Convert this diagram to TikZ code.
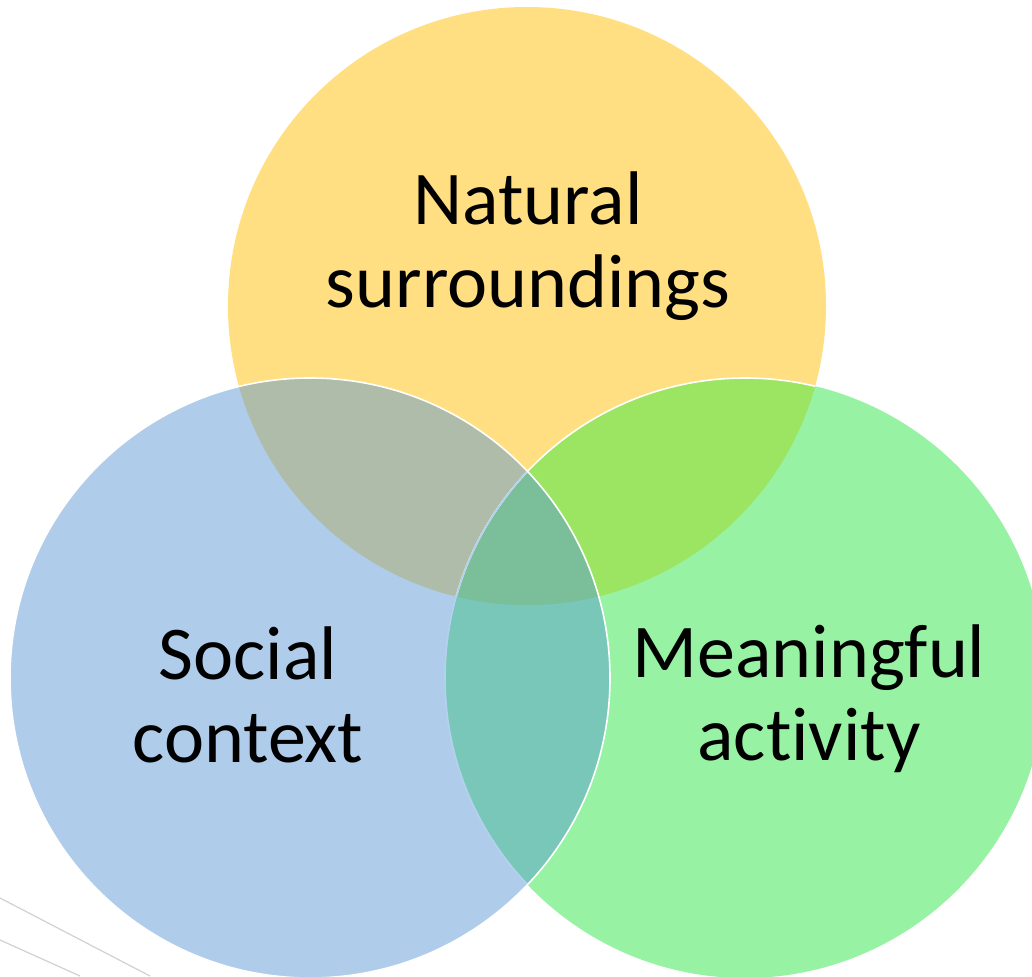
\documentclass[tikz,border=0pt]{standalone}
\usepackage{fontspec}
\setmainfont{Carlito}[Ligatures=NoCommon]
\definecolor{cy}{HTML}{FFDF82}
\definecolor{cb}{HTML}{AFCDEA}
\definecolor{cg}{HTML}{98F2A3}
\definecolor{cyb}{HTML}{AEBCA9}
\definecolor{cyg}{HTML}{9BE563}
\definecolor{cbg}{HTML}{78C7B9}
\definecolor{cc}{HTML}{7ABE9A}
\definecolor{cbl}{HTML}{B4D2EE}
\begin{document}
\begin{tikzpicture}[x=1pt,y=-1pt,
  lbl/.style={font=\fontsize{76}{83}\selectfont, align=center, anchor=base, inner sep=0pt, text=black},
  edge/.style={line width=1.6pt},
  faint/.style={draw=black!18, line width=1.2pt}]
\useasboundingbox (0,0) rectangle (1032,976);
\fill[white] (0,0) rectangle (1032,976);
\clip (0,0) rectangle (1032,976);
\coordinate (cY) at (527,306);
\coordinate (cB) at (310,678);
\coordinate (cG) at (745,678);
% faint decorative lines
\coordinate (f1a) at (0,898); \coordinate (f1b) at (150,976);
\coordinate (f2a) at (0,940); \coordinate (f2b) at (80,976);
\draw[faint] (f1a) -- (f1b);
\draw[faint] (f2a) -- (f2b);
% circles
\fill[cy] (cY) circle[radius=299pt];
\fill[cb] (cB) circle[radius=300pt];
\fill[cg] (cG) circle[radius=300pt];
% overlaps
\begin{scope}
  \clip (cY) circle[radius=299pt];
  \fill[cyb] (cB) circle[radius=300pt];
  \fill[cyg] (cG) circle[radius=300pt];
\end{scope}
\begin{scope}
  \clip (cB) circle[radius=300pt];
  \fill[cbg] (cG) circle[radius=300pt];
  \clip (cY) circle[radius=299pt];
  \fill[cc] (cG) circle[radius=300pt];
\end{scope}
% outlines
\begin{scope}
  \clip (cY) circle[radius=299pt];
  \draw[edge, white] (cG) circle[radius=300pt];
\end{scope}
\begin{scope}
  \clip (cB) circle[radius=300pt];
  \draw[edge, cbl] (cG) circle[radius=300pt];
\end{scope}
\draw[edge, white] (cB) circle[radius=300pt];
% labels
\node[lbl] (nat) at (528,307) {Natural\\surroundings};
\node[lbl] (soc) at (248,762) {Social\\context};
\node[lbl] (mea) at (809,760) {Meaningful\\activity};
\end{tikzpicture}
\end{document}
